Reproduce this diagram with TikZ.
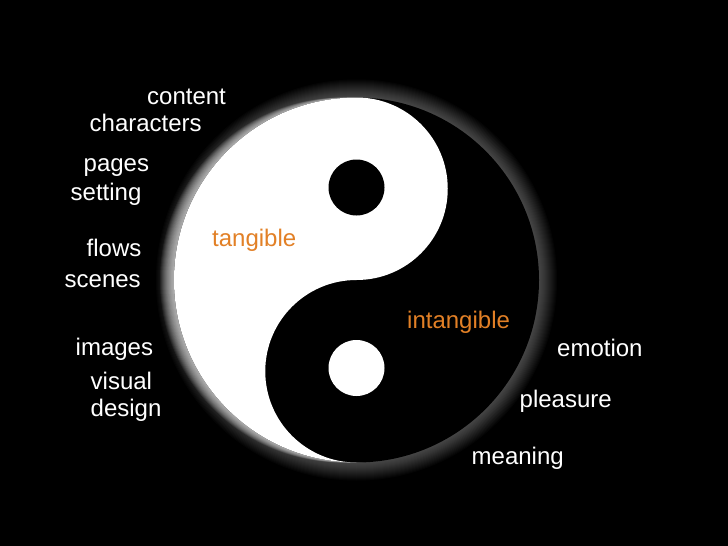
\documentclass[tikz,border=0pt]{standalone}
\usepackage{fontspec}
\setmainfont{Liberation Sans}
\definecolor{orangelab}{RGB}{226,128,38}
\begin{document}
\begin{tikzpicture}[x=1pt,y=1pt,
  lbl/.style={anchor=base west, inner sep=0pt, text=white, font=\fontsize{24}{28}\selectfont},
  olbl/.style={lbl, text=orangelab}]
\fill[black] (0,0) rectangle (728,-546);
\useasboundingbox (0,0) rectangle (728,-546);
% glow (faint all round)
\foreach \k in {1,...,18}
  \fill[white, opacity=0.018] (356.5,-280) circle[radius=182.5+\k];
% brighter soft edge beside the white half (tapers to nothing at top and bottom)
\foreach \k in {1,...,14}
  \fill[white, opacity=0.06] (356.5-\k,-280) circle[radius=182.5];
% yin yang
\fill[black] (356.5,-280) circle[radius=182.5];
\fill[white] (356.5,-97.5) arc[start angle=90, end angle=270, radius=182.5]
  arc[start angle=270, end angle=90, radius=91.25]
  arc[start angle=-90, end angle=90, radius=91.25] -- cycle;
\fill[black] (356.5,-187.5) circle[radius=28];
\fill[white] (356.5,-368) circle[radius=28];
% labels
\node[lbl] (content) at (147,-104) {content};
\node[lbl] (characters) at (89.5,-131) {characters};
\node[lbl] (pages) at (83.5,-171.5) {pages};
\node[lbl] (setting) at (70.5,-200) {setting};
\node[lbl] (flows) at (86.5,-256.5) {flows};
\node[lbl] (scenes) at (64.5,-287) {scenes};
\node[lbl] (images) at (75.5,-355) {images};
\node[lbl] (visual) at (90.5,-389) {visual};
\node[lbl] (design) at (90.5,-416) {design};
\node[olbl] (tangible) at (212,-246) {tangible};
\node[olbl] (intangible) at (407,-328) {intangible};
\node[lbl] (emotion) at (557,-356.5) {emotion};
\node[lbl] (pleasure) at (519.5,-407) {pleasure};
\node[lbl] (meaning) at (471.5,-464) {meaning};
\end{tikzpicture}
\end{document}
